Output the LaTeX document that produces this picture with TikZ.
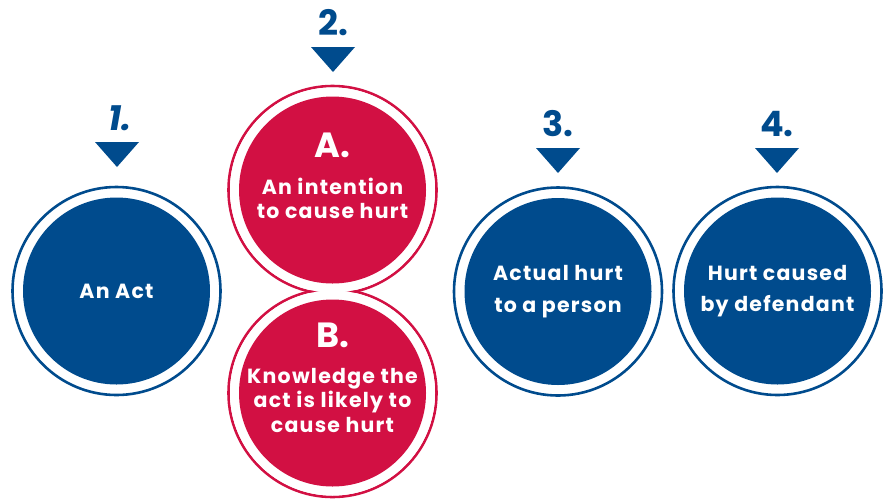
\documentclass[tikz,border=0pt]{standalone}
\usepackage{fontspec}
\setmainfont{Poppins}
\newfontfamily\spaced{Poppins}[LetterSpace=6]
\usetikzlibrary{positioning}

\definecolor{navy}{RGB}{0,75,141}
\definecolor{crimson}{RGB}{210,16,67}

\newcommand\bodyfont{\spaced\fontsize{20.5}{24.5}\selectfont\bfseries}
\newcommand\widefont{\spaced\fontsize{20.5}{31.5}\selectfont\bfseries}
\newcommand\numfont{\fontsize{35}{35}\selectfont\bfseries}
\newcommand\tagfont{\fontsize{35}{35}\selectfont\bfseries}

\tikzset{
	ring/.style={circle, draw=#1, line width=2.6pt, minimum size=208pt, inner sep=0pt},
	gap/.style={circle, fill=white, minimum size=205pt, inner sep=0pt},
	disc/.style={circle, fill=#1, minimum size=187pt, inner sep=0pt, text=white, align=center, font=\bodyfont},
	num/.style={text=navy, inner sep=0pt, font=\numfont},
	tag/.style={text=white, inner sep=0pt, font=\tagfont},
	body/.style={text=white, inner sep=0pt, align=center, font=\bodyfont}
}

\begin{document}
\begin{tikzpicture}[x=1pt, y=-1pt]
		\useasboundingbox (0,0) rectangle (885,499);
		% centres of the circles
		\coordinate (C1) at (116.5,291);
		\coordinate (CA) at (332.5,190);
		\coordinate (CB) at (332.5,393);
		\coordinate (C3) at (558,291.5);
		\coordinate (C4) at (777.5,291);
		% tops of the pointers
		\coordinate (T1) at (117,142);
		\coordinate (T2) at (333,47);
		\coordinate (T3) at (558,148);
		\coordinate (T4) at (777,148);

		% rings first, so the white gaps hide where A and B overlap
		\node[ring=navy] (R1) at (C1) {};
		\node[ring=crimson] (RA) at (CA) {};
		\node[ring=crimson] (RB) at (CB) {};
		\node[ring=navy] (R3) at (C3) {};
		\node[ring=navy] (R4) at (C4) {};
		\node[gap] (GA) at (CA) {};
		\node[gap] (GB) at (CB) {};

		\node[disc=navy] (act) at (C1) {An Act};
		\node[disc=crimson] (intent) at (CA) {};
		\node[disc=crimson] (know) at (CB) {};
		\node[disc=navy, font=\widefont] (hurt) at (C3) {Actual hurt\\to a person};
		\node[disc=navy, font=\widefont] (cause) at (C4) {Hurt caused\\by defendant};

		\node[tag] (tA) at (332.5,145) {A.};
		\node[body] (bA) at (332.5,198.5) {An intention\\to cause hurt};
		\node[tag] (tB) at (332.5,335) {B.};
		\node[body] (bB) at (332.5,400) {Knowledge the\\act is likely to\\cause hurt};

		% pointers and their numbers
		\fill[navy] (T1) ++(-22,0) -- ++(44,0) -- ++(-22,25) -- cycle;
		\fill[navy] (T2) ++(-22,0) -- ++(44,0) -- ++(-22,25) -- cycle;
		\fill[navy] (T3) ++(-22,0) -- ++(44,0) -- ++(-22,25) -- cycle;
		\fill[navy] (T4) ++(-22,0) -- ++(44,0) -- ++(-22,25) -- cycle;
		\node[num, font=\numfont\itshape, above=11.5pt of T1, xshift=3pt] (n1) {1.};
		\node[num, above=11.5pt of T2] (n2) {2.};
		\node[num, above=11.5pt of T3] (n3) {3.};
		\node[num, above=11.5pt of T4] (n4) {4.};
		\end{tikzpicture}
\end{document}
